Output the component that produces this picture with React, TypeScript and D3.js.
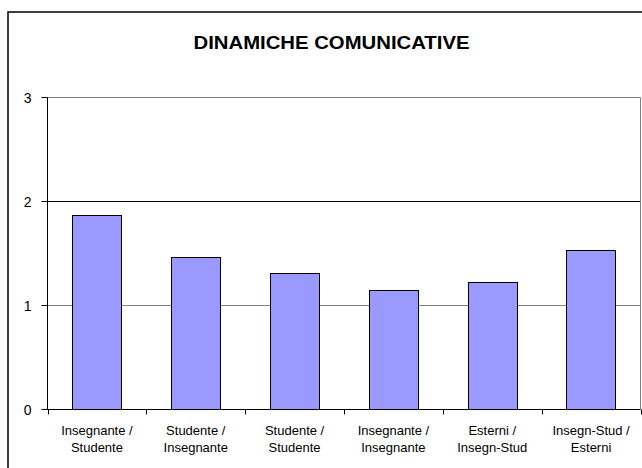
import * as d3 from 'd3';

const categories = [
  ['Insegnante /', 'Studente'],
  ['Studente /', 'Insegnante'],
  ['Studente /', 'Studente'],
  ['Insegnante /', 'Insegnante'],
  ['Esterni /', 'Insegn-Stud'],
  ['Insegn-Stud /', 'Esterni'],
];
const values = [1.87, 1.465, 1.305, 1.145, 1.22, 1.53];
const yTicks = [0, 1, 2, 3];
const title = 'DINAMICHE COMUNICATIVE';

const width = 642;
const height = 468;
const margin = { top: 97, right: 1.5, bottom: 59, left: 47.5 };
const font = '"Liberation Sans", Arial, sans-serif';

const BarChart = () => {
  const keys = categories.map((_, i) => String(i));

  const x = d3
    .scaleBand()
    .domain(keys)
    .range([margin.left, width - margin.right])
    .paddingInner(0.5)
    .paddingOuter(0.25);

  const y = d3
    .scaleLinear()
    .domain([0, 3])
    .range([height - margin.bottom, margin.top]);

  const px = (v: number) => Math.round(v) + 0.5;
  const y0 = px(y(0));
  const right = width - margin.right;
  const boundaries = d3.range(categories.length + 1).map((i) => margin.left + i * x.step());

  return (
    <svg
      width={width}
      height={height}
      style={{ position: 'absolute', left: 0, top: 0, display: 'block', background: '#fff' }}
    >
      {/* chart area border, runs off right and bottom */}
      <rect x={8} y={12} width={width} height={height} fill="none" stroke="#000" strokeWidth={1.5} />

      <text
        x={331.5}
        y={48.5}
        textAnchor="middle"
        fontFamily={font}
        fontSize={19}
        fontWeight="bold"
        textLength={276}
        lengthAdjust="spacingAndGlyphs"
      >
        {title}
      </text>

      {/* gridlines */}
      {yTicks.filter((t) => t > 0).map((t) => (
        <line
          key={t}
          x1={margin.left}
          x2={right}
          y1={px(y(t))}
          y2={px(y(t))}
          stroke={t === 2 ? '#000' : '#808080'}
        />
      ))}
      <line x1={right} x2={right} y1={px(y(3))} y2={y0} stroke="#808080" />

      {/* bars */}
      {values.map((v, i) => (
        <rect
          key={i}
          x={px(x(keys[i])!)}
          y={px(y(v))}
          width={Math.round(x.bandwidth())}
          height={Math.round(y(0)) - Math.round(y(v))}
          fill="#9999ff"
          stroke="#000"
        />
      ))}

      {/* y axis */}
      <line x1={margin.left} x2={margin.left} y1={px(y(3))} y2={y0} stroke="#000" />
      {yTicks.map((t) => (
        <g key={t}>
          <line x1={margin.left - 6} x2={margin.left} y1={px(y(t))} y2={px(y(t))} stroke="#000" />
          <text
            x={31.5}
            y={px(y(t))}
            dy="0.36em"
            textAnchor="end"
            fontFamily={font}
            fontSize={14}
          >
            {t}
          </text>
        </g>
      ))}

      {/* x axis */}
      <line x1={margin.left} x2={right} y1={y0} y2={y0} stroke="#000" />
      {boundaries.map((b, i) => (
        <line key={i} x1={px(b)} x2={px(b)} y1={y0} y2={y0 + 5} stroke="#000" />
      ))}
      {categories.map((lines, i) => (
        <text key={i} textAnchor="middle" fontFamily={font} fontSize={13}>
          {lines.map((line, j) => (
            <tspan key={j} x={x(keys[i])! + x.bandwidth() / 2} y={435 + j * 16.5}>
              {line}
            </tspan>
          ))}
        </text>
      ))}
    </svg>
  );
};

export default function App() {
  return <BarChart />;
}
